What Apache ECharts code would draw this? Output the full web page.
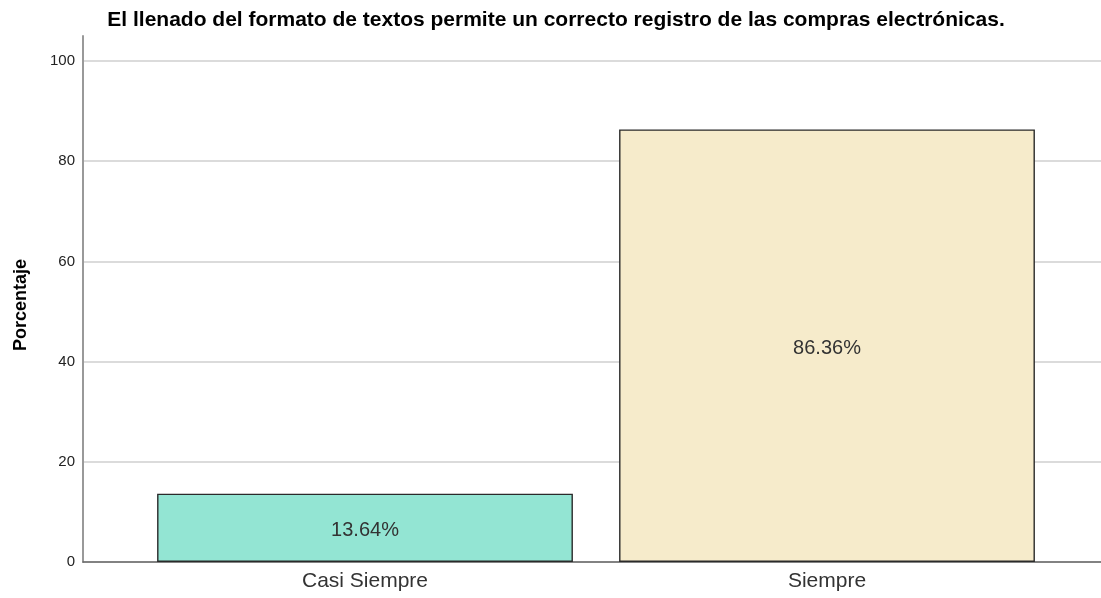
<!DOCTYPE html>
<html>
<head>
<meta charset="utf-8">
<script src="https://cdn.jsdelivr.net/npm/echarts@6/dist/echarts.min.js"></script>
<style>
html,body{margin:0;padding:0;background:#fff;}
#chart{width:1101px;height:598px;}
</style>
</head>
<body>
<div id="chart"></div>
<script>
const titleText = 'El llenado del formato de textos permite un correcto registro de las compras electrónicas.';
const yAxisName = 'Porcentaje';
const categories = ['Casi Siempre', 'Siempre'];
const values = [13.64, 86.36];
const barColors = ['#93E5D3', '#F6EBCB'];
const yMin = 0, yMax = 105, yInterval = 20;

const chart = echarts.init(document.getElementById('chart'), null, {renderer: 'canvas'});
const font = 'Liberation Sans, Arial, sans-serif';

chart.setOption({
  animation: false,
  backgroundColor: '#ffffff',
  title: {
    text: titleText,
    left: 551, top: 5, textAlign: 'center',
    textStyle: {fontFamily: font, fontSize: 21, fontWeight: 'bold', color: '#000'}
  },
  graphic: [{
    type: 'text', x: 21, y: 305, rotation: Math.PI / 2,
    style: {text: yAxisName, font: 'bold 18px Liberation Sans, Arial, sans-serif', fill: '#000', align: 'center', verticalAlign: 'middle'}
  }],
  grid: [
    {left: 83, right: 0, top: 36, bottom: 36, containLabel: false},
    {left: 134, right: 43, top: 36, bottom: 36, containLabel: false}
  ],
  xAxis: [
    {gridIndex: 0, type: 'value', min: 0, max: 1,
     axisLine: {show: true, onZero: false, lineStyle: {color: '#666', width: 1.5}},
     axisTick: {show: false}, axisLabel: {show: false}, splitLine: {show: false}},
    {gridIndex: 1, type: 'category', data: categories,
     axisLine: {show: false}, axisTick: {show: false},
     axisLabel: {fontFamily: font, fontSize: 21, color: '#333', margin: 9}}
  ],
  yAxis: [
    {gridIndex: 0, type: 'value', min: yMin, max: yMax, interval: yInterval,
     axisLine: {show: true, lineStyle: {color: '#999', width: 2}},
     axisTick: {show: false},
     axisLabel: {fontFamily: font, fontSize: 15, color: '#222', margin: 8, showMaxLabel: false},
     splitLine: {show: true, showMaxLine: false, lineStyle: {color: '#cfcfcf', width: 1.5}}},
    {gridIndex: 1, type: 'value', min: yMin, max: yMax, interval: yInterval, show: false,
     splitLine: {show: false}}
  ],
  series: [{
    type: 'bar',
    xAxisIndex: 1, yAxisIndex: 1,
    data: values.map((v, i) => ({value: v, itemStyle: {color: barColors[i]}})),
    barWidth: '90%',
    itemStyle: {borderColor: '#2a2a2a', borderWidth: 1.4},
    label: {
      show: true, position: 'inside', offset: [0, 3],
      formatter: p => p.value.toFixed(2) + '%',
      fontFamily: font, fontSize: 20, color: '#333'
    }
  }]
});
</script>
</body>
</html>
